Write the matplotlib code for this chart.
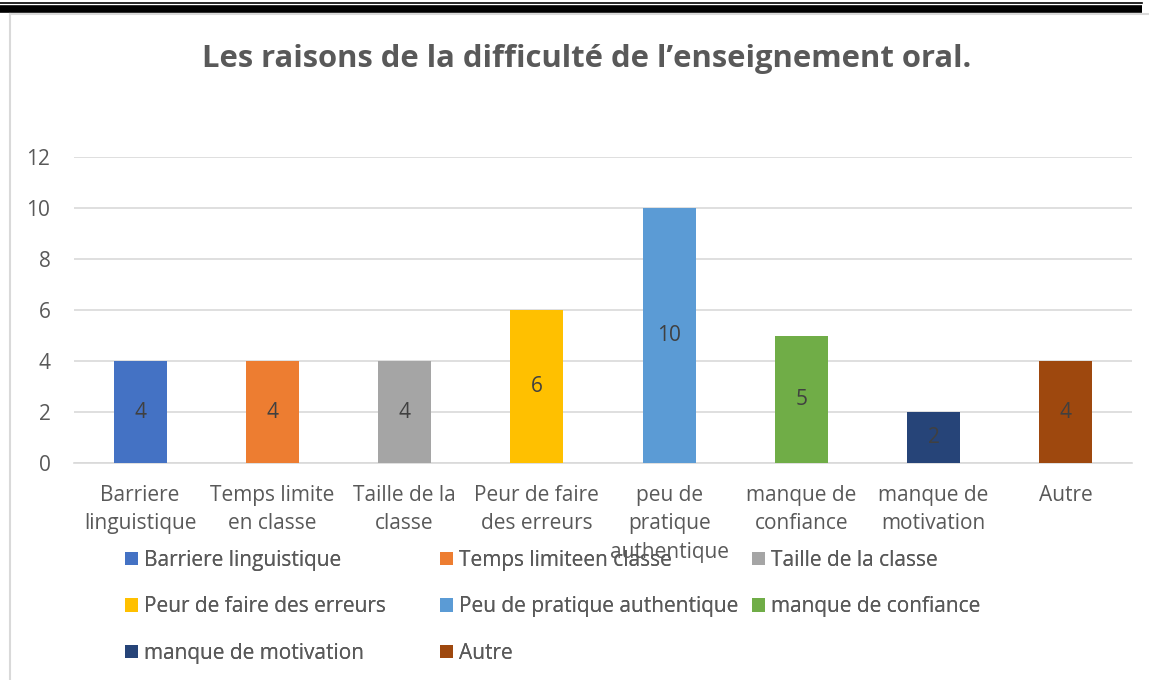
import matplotlib
matplotlib.use("Agg")
import matplotlib.pyplot as plt
from matplotlib.lines import Line2D

categories = ["Barriere\nlinguistique", "Temps limite\nen classe", "Taille de la\nclasse",
              "Peur de faire\ndes erreurs", "peu de\npratique\nauthentique", "manque de\nconfiance",
              "manque de\nmotivation", "Autre"]
legend_labels = ["Barriere linguistique", "Temps limiteen classe", "Taille de la classe",
                 "Peur de faire des erreurs", "Peu de pratique authentique", "manque de confiance",
                 "manque de motivation", "Autre"]
values = [4, 4, 4, 6, 10, 5, 2, 4]
colors = ["#4472C4", "#ED7D31", "#A5A5A5", "#FFC000", "#5B9BD5", "#70AD47", "#264478", "#9E480E"]
yticks = [0, 2, 4, 6, 8, 10, 12]
title = "Les raisons de la difficulté de l\u2019enseignement oral."

plt.rcParams['font.family'] = ['Open Sans', 'DejaVu Sans']
TXT = "#595959"
FS = 15
W, H = 1149, 680
fig = plt.figure(figsize=(W / 100, H / 100), dpi=100)
ax = fig.add_axes([74 / W, 1 - 463 / H, (1132 - 74) / W, (463 - 157) / H])

bars = []
for i, (v, c, lab) in enumerate(zip(values, colors, legend_labels)):
    b = ax.bar(i, v, width=0.4, color=c, label=lab, zorder=3)
    bars.append(b)
    ax.bar_label(b, labels=[str(v)], label_type='center', color="#404040", fontsize=FS)

ax.set_xlim(-0.5, len(values) - 0.5)
ax.set_ylim(0, 12)
ax.set_yticks(yticks)
ax.set_yticklabels([str(t) for t in yticks])
ax.set_xticks(range(len(categories)))
ax.set_xticklabels(categories, linespacing=1.45)
ax.tick_params(axis='both', length=0, labelsize=FS, labelcolor=TXT)
ax.tick_params(axis='x', pad=16)
ax.tick_params(axis='y', pad=17)
ax.grid(axis='y', color="#D9D9D9", linewidth=1.2, zorder=0)
for s in ['top', 'right', 'left']:
    ax.spines[s].set_visible(False)
ax.spines['bottom'].set_color("#D9D9D9")
ax.spines['bottom'].set_linewidth(1.2)

fig.text(587 / W, 1 - 59 / H, title, ha='center', va='center', fontsize=22.3,
         fontweight='bold', color=TXT)

# legend: three columns, row-major ordering
cols_x = [125, 440, 752]
handles = [b.patches[0] for b in bars]
for c in range(3):
    idx = [i for i in range(len(values)) if i % 3 == c]
    leg = fig.legend([handles[i] for i in idx], [legend_labels[i] for i in idx],
                     loc='upper left', bbox_to_anchor=(cols_x[c] / W, 1 - 550 / H),
                     frameon=False, fontsize=FS, handlelength=0.6, handleheight=0.6,
                     handletextpad=0.3, labelspacing=1.22, borderpad=0, borderaxespad=0,
                     labelcolor=TXT)
    fig.add_artist(leg)

# page border decorations
fig.add_artist(Line2D([0, 1142 / W], [1 - 2.5 / H, 1 - 2.5 / H], color='black', linewidth=1.2,
                      transform=fig.transFigure))
fig.add_artist(Line2D([0, 1142 / W], [1 - 8.8 / H, 1 - 8.8 / H], color='black', linewidth=5.5,
                      transform=fig.transFigure, solid_capstyle='butt'))
fig.add_artist(Line2D([9.5 / W, 1], [1 - 14 / H, 1 - 14 / H], color='#D9D9D9', linewidth=1.5,
                      transform=fig.transFigure))
fig.add_artist(Line2D([9.5 / W, 9.5 / W], [1 - 14 / H, 0], color='#D9D9D9', linewidth=1.5,
                      transform=fig.transFigure))

fig.savefig("out.png", dpi=100)
